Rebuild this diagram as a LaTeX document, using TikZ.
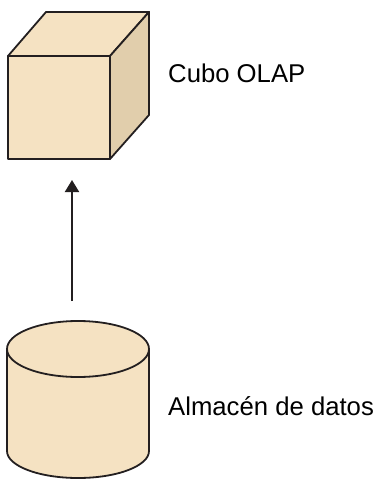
\documentclass[tikz,border=0pt]{standalone}
\usepackage{fontspec}
\setmainfont{Liberation Sans}
\usetikzlibrary{arrows.meta}
\definecolor{cubefill}{RGB}{245,226,194}
\definecolor{cubeside}{RGB}{225,206,172}
\definecolor{cubeline}{RGB}{35,31,32}
\tikzset{
  outline/.style={draw=cubeline,line width=1.8pt,line join=round},
  label/.style={anchor=west,inner sep=0pt,font=\fontsize{25.7}{30}\selectfont,text=black},
}
\begin{document}
\begin{tikzpicture}[x=1pt,y=-1pt]
        \useasboundingbox (0,0) rectangle (376,479);
        % Coordinates
        \coordinate (A) at (8,56);
        \coordinate (B) at (110,56);
        \coordinate (C) at (110,159);
        \coordinate (D) at (8,159);
        \coordinate (E) at (46,12);
        \coordinate (F) at (149,12);
        \coordinate (G) at (149,115);
        \coordinate (H) at (7,349);
        \coordinate (J) at (149,349);
        \coordinate (K) at (149,451);
        \coordinate (L) at (7,451);
        \coordinate (from) at (72,301);
        \coordinate (to) at (72,180);

        % Drawing the cube
        \filldraw[outline,fill=cubefill] (A) -- (B) -- (C) -- (D) -- cycle;
        \filldraw[outline,fill=cubefill] (A) -- (E) -- (F) -- (B) -- cycle;
        \filldraw[outline,fill=cubeside] (B) -- (F) -- (G) -- (C) -- cycle;
        % heavier back edges
        \draw[outline,line width=2.4pt] (E) -- (F) -- (G);

        % Drawing the cylinder
        \filldraw[outline,fill=cubefill] (H) -- (L) arc[start angle=180,end angle=360,x radius=71,y radius=-27] -- (J) -- cycle;
        \filldraw[outline,fill=cubefill] (78,349) ellipse[x radius=71,y radius=28];

        % draw the arrow
        \draw[cubeline,line width=2pt,-{Triangle[length=12pt,width=14pt]}] (from) -- (to);

        % Labels
        \node[label] (cube) at (168,73) {Cubo OLAP};
        \node[label] (store) at (168,406) {Almacén de datos};
    \end{tikzpicture}
\end{document}
